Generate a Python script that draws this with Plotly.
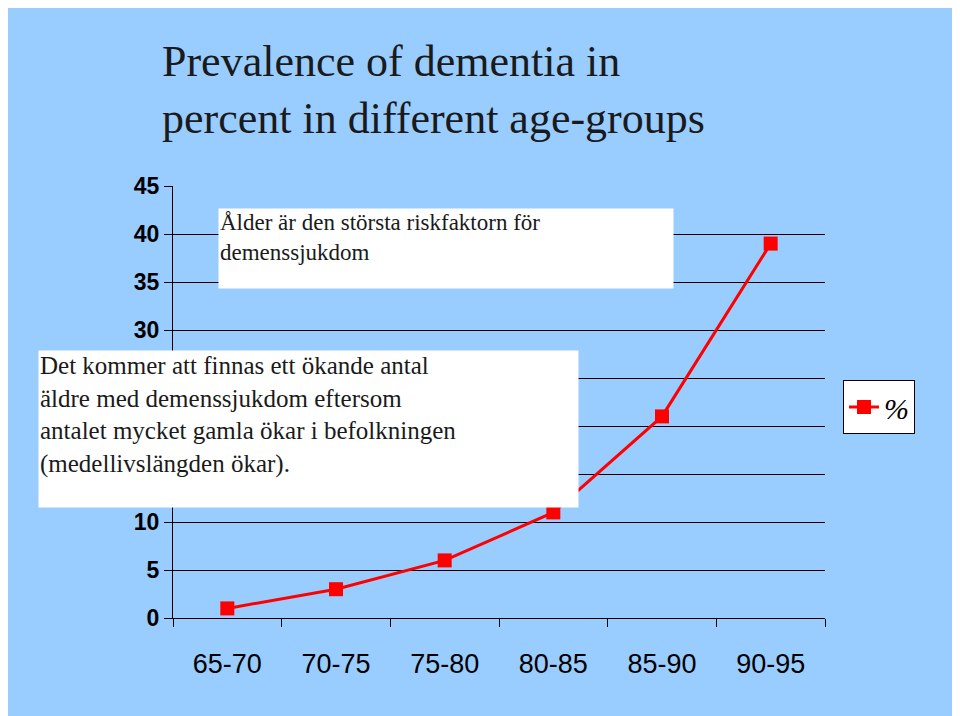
import plotly.graph_objects as go

categories = ["65-70", "70-75", "75-80", "80-85", "85-90", "90-95"]
values = [1, 3, 6, 11, 21, 39]
yticks = [0, 5, 10, 15, 20, 25, 30, 35, 40, 45]

bg = "#99CCFF"
fig = go.Figure(go.Scatter(
    x=categories, y=values, mode="lines+markers", name="%", showlegend=True,
    line=dict(color="#FF0000", width=3),
    marker=dict(symbol="square", size=14, color="#FF0000")))

def px(x): return (x - 173) / 652
def py(y): return (618 - y) / 432

fig.update_layout(
    width=960, height=716, paper_bgcolor=bg, plot_bgcolor=bg,
    margin=dict(l=165, r=143, t=178, b=106, autoexpand=False),
    showlegend=True,
    xaxis=dict(type="category", showline=True, linecolor="black", linewidth=1,
               ticks="outside", tickson="boundaries", ticklen=8, tickcolor="black",
               showgrid=False, tickfont=dict(family="Liberation Sans", size=27, color="black"),
               range=[-0.5, 5.5], ticklabelstandoff=22),
    yaxis=dict(range=[0, 45], tickvals=yticks, showline=True, linecolor="black",
               ticks="outside", ticklen=8, tickcolor="black", gridcolor="black", gridwidth=1,
               tickfont=dict(family="Liberation Sans", size=23, color="black", weight="bold"),
               zeroline=False),
    legend=dict(x=px(843), y=py(380), xanchor="left", yanchor="top", bgcolor="white",
                bordercolor="black", borderwidth=1,
                font=dict(family="Liberation Serif", size=30, style="italic", color="black")),
)
fig.add_annotation(xref="paper", yref="paper", x=px(160), y=py(145), xanchor="left", yanchor="bottom",
                   text="Prevalence of dementia in<br>percent in different age-groups",
                   showarrow=False, align="left",
                   font=dict(family="Liberation Serif", size=44, color="#1a1a1a"))
fig.add_annotation(xref="paper", yref="paper", x=px(218), y=py(208), xanchor="left", yanchor="top",
                   text="Ålder är den största riskfaktorn för<br>demenssjukdom", showarrow=False,
                   align="left", bgcolor="white", width=452, height=77, valign="top",
                   font=dict(family="Liberation Serif", size=23, color="#1a1a1a"))
fig.add_annotation(xref="paper", yref="paper", x=px(38), y=py(350), xanchor="left", yanchor="top",
                   text="Det kommer att finnas ett ökande antal<br>äldre med demenssjukdom eftersom<br>antalet mycket gamla ökar i befolkningen<br>(medellivslängden ökar).",
                   showarrow=False, align="left", bgcolor="white", width=537, height=154, valign="top",
                   font=dict(family="Liberation Serif", size=25, color="#1a1a1a"))
fig.write_html("out.html")
